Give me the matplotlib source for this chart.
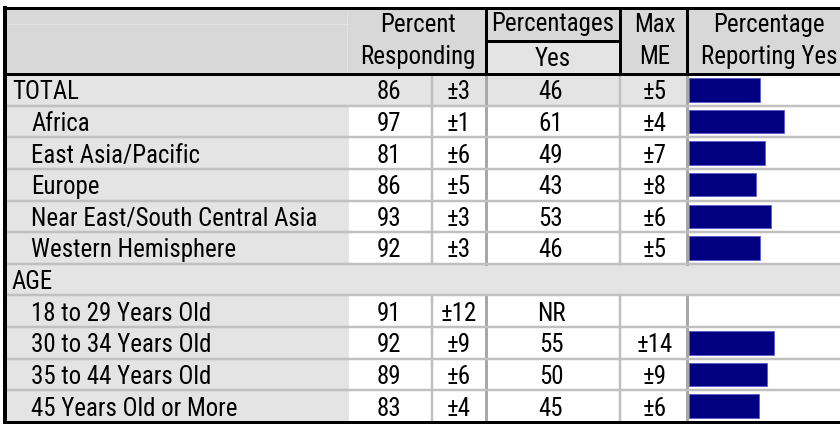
import matplotlib
matplotlib.use("Agg")
import matplotlib.pyplot as plt
from matplotlib import font_manager as fm

# данні таблиці
labels = ['TOTAL', 'Africa', 'East Asia/Pacific', 'Europe',
          'Near East/South Central Asia', 'Western Hemisphere', 'AGE',
          '18 to 29 Years Old', '30 to 34 Years Old', '35 to 44 Years Old',
          '45 Years Old or More']
group_row = [True, False, False, False, False, False, True,
             False, False, False, False]
responding = [86, 97, 81, 86, 93, 92, None, 91, 92, 89, 83]
responding_me = [3, 1, 6, 5, 3, 3, None, 12, 9, 6, 4]
pct_yes = [46, 61, 49, 43, 53, 46, None, 'NR', 55, 50, 45]
yes_me = [5, 4, 7, 8, 6, 5, None, None, 14, 9, 6]

# вузький шрифт, якщо є
names = {f.name for f in fm.fontManager.ttflist}
narrow = ['Liberation Sans Narrow', 'Arial Narrow', 'Roboto Condensed',
          'Archivo Narrow', 'PT Sans Narrow', 'IBM Plex Sans Condensed',
          'Fira Sans Condensed', 'Encode Sans Condensed', 'Liberation Sans']
family = next(f for f in narrow if f in names or f == 'Liberation Sans')
plt.rcParams['font.family'] = [family, 'DejaVu Sans']

W, H = 840, 425
fig = plt.figure(figsize=(W / 100, H / 100), dpi=100)
ax = fig.add_axes([0, 0, 1, 1])
ax.set_xlim(0, W)
ax.set_ylim(H, 0)
ax.axis('off')

# підбір розміру під ширину найдовшого підпису (~285 px)
r = fig.canvas.get_renderer()
probe = ax.text(0, 100, labels[4], fontsize=20)
FS = 20 * 285 / probe.get_window_extent(r).width
probe.remove()
cap = 0.36 * FS / 0.72  # приблизно половина висоти великої літери, px

# сітка (пікселі)
left, top, hdr_bot, bottom = 5, 8, 74, 422
x_val, x_pm, x_yes, x_me, x_bar, right = 349, 432, 486, 620, 687, 840
n = len(labels)
rh = (bottom - hdr_bot) / n
px = 0.72  # 1 px у пунктах

def rect(x0, y0, x1, y1, c):
    ax.add_patch(plt.Rectangle((x0, y0), x1 - x0, y1 - y0, color=c, lw=0, zorder=1))

# шапка
rect(left, top, right, hdr_bot, '#d8d8d8')
rect(x_yes, 41, x_me, hdr_bot, '#e4e4e4')
ax.plot([left, x_val], [24, 24], color='#e2e2e2', lw=1 * px, zorder=2)
ax.plot([x_val - 2, x_val - 2], [top, hdr_bot], color='#e2e2e2', lw=1 * px, zorder=2)

# тіло
for i, lab in enumerate(labels):
    y0 = hdr_bot + i * rh
    y1 = y0 + rh
    rect(left, y0, x_val, y1, '#e4e4e4')
    if group_row[i]:
        rect(x_val, y0, x_bar if responding[i] is not None else right, y1, '#e4e4e4')

# вертикальні лінії тіла
for i in range(n):
    if responding[i] is None:
        continue
    y0 = hdr_bot + i * rh
    y1 = y0 + rh
    ax.plot([x_pm, x_pm], [y0, y1], color='#c0c0c0', lw=2.5 * px, zorder=3)
    ax.plot([x_yes, x_yes], [y0, y1], color='#a8a8a8', lw=3 * px, zorder=3)
    ax.plot([x_me, x_me], [y0, y1], color='#c0c0c0', lw=2.5 * px, zorder=3)
    ax.plot([x_bar, x_bar], [y0, y1], color='#a8a8a8', lw=3 * px, zorder=3)

# горизонтальні лінії
for i in range(1, n):
    y = hdr_bot + i * rh
    ax.plot([left, right], [y, y], color='#c0c0c0', lw=2.5 * px, zorder=3)

# чорні рамки
blk = dict(color='black', zorder=5, solid_capstyle='projecting')
ax.plot([left, right], [top, top], lw=3 * px, **blk)
ax.plot([left, right], [hdr_bot, hdr_bot], lw=3 * px, **blk)
ax.plot([left, right], [bottom, bottom], lw=3 * px, **blk)
ax.plot([left, left], [top, bottom], lw=4 * px, **blk)
ax.plot([x_yes, x_yes], [top, hdr_bot], lw=3 * px, **blk)
ax.plot([x_me, x_me], [top, hdr_bot], lw=3 * px, **blk)
ax.plot([x_bar, x_bar], [top, hdr_bot], lw=3 * px, **blk)
ax.plot([x_yes, x_me], [41, 41], lw=3 * px, **blk)

# заголовки
hd = dict(ha='center', va='baseline', fontsize=FS, zorder=6)
ax.text((x_val + x_yes) / 2, 23 + cap, 'Percent', **hd)
ax.text((x_val + x_yes) / 2, 55 + cap, 'Responding', **hd)
ax.text((x_yes + x_me) / 2, 22 + cap, 'Percentages', **hd)
ax.text((x_yes + x_me) / 2, 57 + cap, 'Yes', **hd)
ax.text(655, 23 + cap, 'Max', **hd)
ax.text(655, 55 + cap, 'ME', **hd)
ax.text(769, 23 + cap, 'Percentage', **hd)
ax.text(769, 55 + cap, 'Reporting Yes', **hd)

# значення
for i, lab in enumerate(labels):
    yb = hdr_bot + (i + 0.5) * rh + cap + 0.5
    ax.text(12 if group_row[i] else 31, yb, lab, ha='left', va='baseline', fontsize=FS, zorder=6)
    if responding[i] is not None:
        ax.text(389, yb, str(responding[i]), ha='center', va='baseline', fontsize=FS, zorder=6)
        ax.text(459, yb, '±%d' % responding_me[i], ha='center', va='baseline', fontsize=FS, zorder=6)
    if pct_yes[i] is not None:
        ax.text(551, yb, str(pct_yes[i]), ha='center', va='baseline', fontsize=FS, zorder=6)
    if yes_me[i] is not None:
        ax.text(655, yb, '±%d' % yes_me[i], ha='center', va='baseline', fontsize=FS, zorder=6)

# стовпчики
bx = fig.add_axes([(x_bar + 2) / W, 1 - bottom / H, 155 / W, (bottom - hdr_bot) / H])
bx.patch.set_alpha(0)
rows = [i for i, v in enumerate(pct_yes) if isinstance(v, (int, float))]
bx.barh(rows, [pct_yes[i] for i in rows], height=0.74, color='#000080',
        edgecolor='#5a5ac8', linewidth=0.6)
bx.set_xlim(0, 100)
bx.set_ylim(n - 0.5, -0.5)
bx.axis('off')

fig.savefig('out.png', dpi=100)
